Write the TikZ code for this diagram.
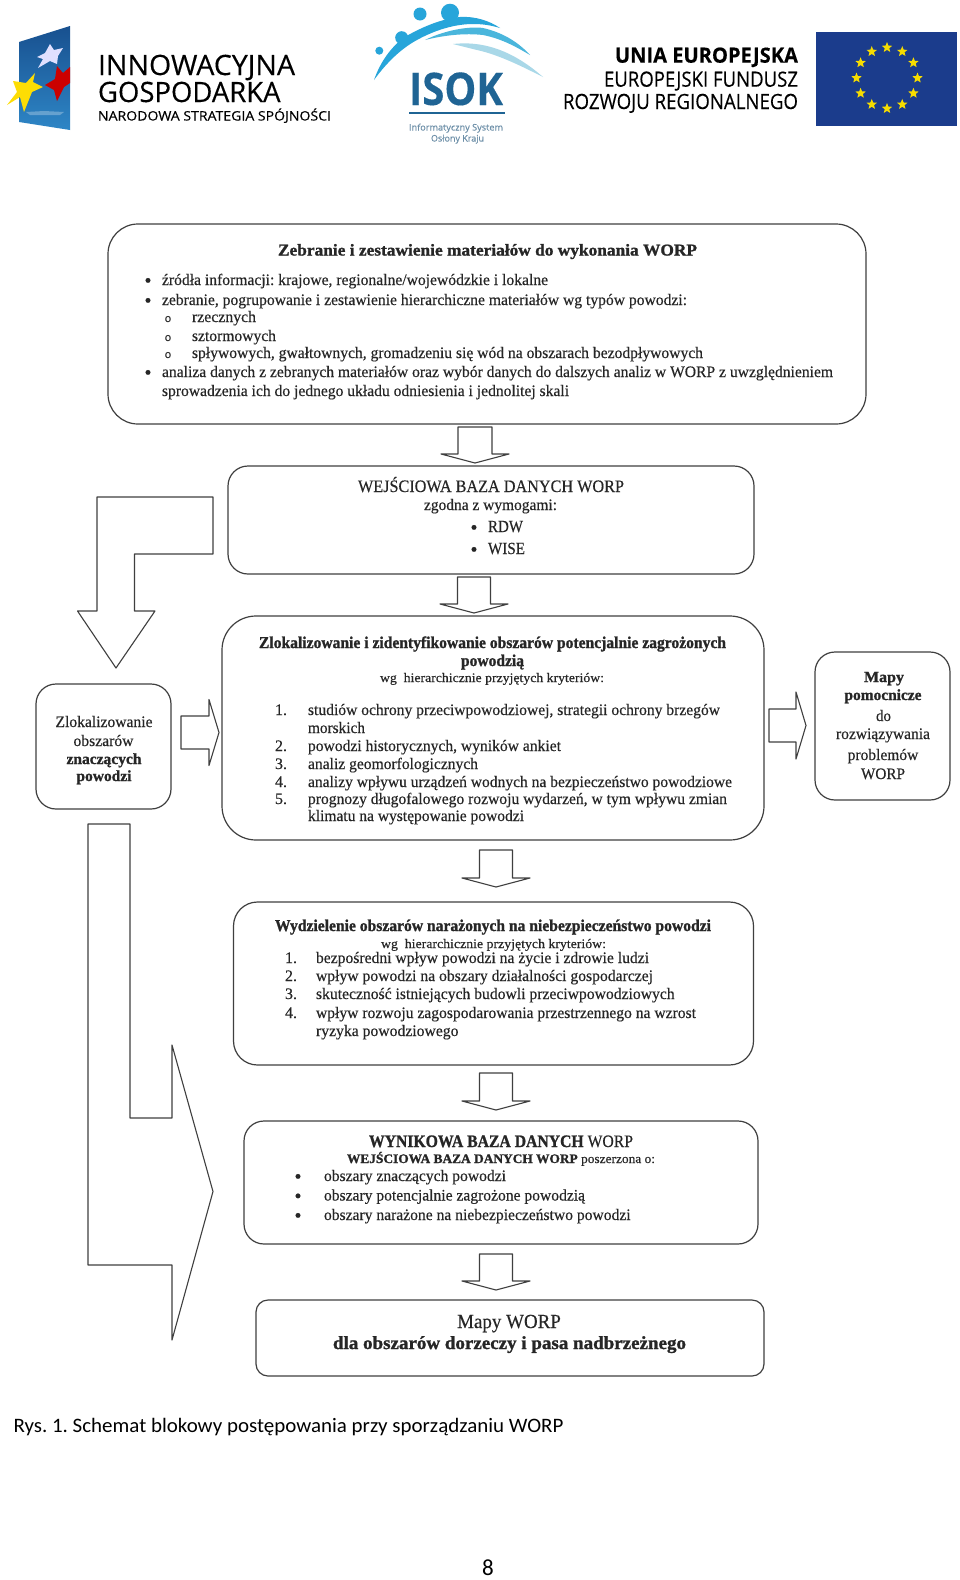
\documentclass[tikz,border=0pt]{standalone}
\usepackage{fontspec}
\usepackage{graphicx}
\setmainfont[FakeBold=0.35,BoldFeatures={FakeBold=1.2}]{Liberation Serif}
\newfontfamily\capfont{Carlito}
\newfontfamily\logofont[FakeBold=0.3]{Open Sans}
\usetikzlibrary{calc,shapes.geometric}
\definecolor{ink}{HTML}{262626}
\definecolor{edge}{HTML}{3F3F3F}
\definecolor{euroblue}{HTML}{1B3C8C}
\definecolor{eurostar}{HTML}{F6DC00}
\definecolor{flagtop}{HTML}{18508F}
\definecolor{flagbot}{HTML}{2E86C6}
\definecolor{isokdark}{HTML}{1F6494}
\definecolor{isokmid}{HTML}{27A5DA}
\definecolor{isoklight}{HTML}{4AB6DC}
\definecolor{isokpale}{HTML}{A9D8E8}
\definecolor{isokgrey}{HTML}{6D8FA8}
\newcommand\fa[1]{\fontsize{#1}{#1}\selectfont}
\newsavebox\fitsave
\newcommand\fitbox[2]{\sbox\fitsave{#2}\pgfmathsetmacro\fitratio{#1/\the\wd\fitsave}\scalebox{\fitratio}[1]{\usebox\fitsave}}
\newcount\tn
\newcommand\LT[5][]{\global\advance\tn by 1\relax\node[txt,anchor=base west,#1] (t\the\tn) at (#2,#3) {\fitbox{#4}{#5}};}
\newcommand\CT[5][]{\global\advance\tn by 1\relax\node[txt,anchor=base,#1] (t\the\tn) at (#2,#3) {\fitbox{#4}{#5}};}
\newcommand\PT[4][]{\global\advance\tn by 1\relax\node[txt,anchor=base,#1] (t\the\tn) at (#2,#3) {#4};}
% from, to, centre x, gap below from, gap above to, half shaft, half head, head length
\newcommand\DArr[8]{\draw[blockarrow] let \p1=(#1.south), \p2=(#2.north) in
  ({(#3-#6)*1pt},{\y1-#4*1pt}) -- ({(#3+#6)*1pt},{\y1-#4*1pt}) -- ({(#3+#6)*1pt},{\y2+#5*1pt+#8*1pt}) -- ({(#3+#7)*1pt},{\y2+#5*1pt+#8*1pt})
  -- ({#3*1pt},{\y2+#5*1pt}) -- ({(#3-#7)*1pt},{\y2+#5*1pt+#8*1pt}) -- ({(#3-#6)*1pt},{\y2+#5*1pt+#8*1pt}) -- cycle;}
% from, to, centre y, gap after from, gap before to, half shaft, half head, head length
\newcommand\RArr[8]{\draw[blockarrow] let \p1=(#1.east), \p2=(#2.west) in
  ({\x1+#4*1pt},{-(#3-#6)*1pt}) -- ({\x2-#5*1pt-#8*1pt},{-(#3-#6)*1pt}) -- ({\x2-#5*1pt-#8*1pt},{-(#3-#7)*1pt})
  -- ({\x2-#5*1pt},{-#3*1pt}) -- ({\x2-#5*1pt-#8*1pt},{-(#3+#7)*1pt}) -- ({\x2-#5*1pt-#8*1pt},{-(#3+#6)*1pt}) -- ({\x1+#4*1pt},{-(#3+#6)*1pt}) -- cycle;}
\tikzset{
  txt/.style={inner sep=0pt,outer sep=0pt,text=ink,font=\fa{16}},
  ttl/.style={font=\bfseries\fa{16.5}},
  wgl/.style={font=\fa{13}},
  logo/.style={font=\logofont\fa{28},text=black},
  boxa/.style={draw=edge,line width=1.2pt,fill=white,inner sep=0pt,outer sep=0pt},
  blockarrow/.style={draw=edge,line width=1.1pt,fill=white,line join=round},
  eustar/.style={star,star points=5,star point ratio=2.3,inner sep=0pt,outer sep=0pt,fill=eurostar,minimum size=11pt},
}
\begin{document}
\frenchspacing
\begin{tikzpicture}[x=1pt,y=-1pt]
\useasboundingbox (0,0) rectangle (960,1580);
\fill[white] (0,0) rectangle (960,1580);

% --- left logo
\shade[top color=flagtop,bottom color=flagbot] (19,42) -- (70,26) -- (70,130) -- (19,122) -- cycle;
\fill[white,opacity=.28] (26,112) -- (44,111) -- (64,112) -- (60,115) -- (30,115) -- cycle;
\fill[white!88!blue] (50,44) -- (54,50) -- (63,48) -- (58,56) -- (57,64) -- (50,61) -- (38,68) -- (43,59) -- (37,57) -- (45,53) -- cycle;
\fill[red!80!black] (45,85) -- (55,79) -- (57,66) -- (63,73) -- (70,67) -- (70,83) -- (64,87) -- (57,101) -- (54,90) -- cycle;
\fill[yellow!80!orange] (35,73) -- (33,82) -- (43,87) -- (32,92) -- (24,112) -- (20,97) -- (7,105) -- (17,92) -- (13,81) -- (26,83) -- cycle;
\LT[logo]{98}{75}{197}{INNOWACYJNA}
\LT[logo]{98}{102}{182.5}{GOSPODARKA}
\LT[logo,font=\logofont\fa{13}]{98}{120.5}{233}{NARODOWA STRATEGIA SPÓJNOŚCI}

% --- ISOK logo
\fill[isokpale] (453,44) .. controls (480,41) and (510,48) .. (543,77) .. controls (525,68) and (500,55) .. (477,50) -- cycle;
\fill[isoklight] (425,40) .. controls (445,30) and (470,26) .. (483,28) .. controls (505,33) and (520,44) .. (530,55) .. controls (518,48) and (503,39) .. (483,35) .. controls (465,33) and (445,35) .. (425,40) -- cycle;
\fill[isokmid] (374,80) .. controls (381,60) and (392,47) .. (403,38) .. controls (420,28) and (440,19) .. (460,17) .. controls (475,16) and (490,21) .. (500,28) .. controls (490,25) and (482,24) .. (473,24) .. controls (455,24) and (435,30) .. (417,40) .. controls (402,48) and (387,62) .. (374,80) -- cycle;
\fill[isokmid] (450,12.7) circle[radius=9];
\fill[isokmid] (420,14) circle[radius=6.5];
\fill[isokmid] (401.7,37.7) circle[radius=6.5];
\fill[isokmid] (379.3,50.7) circle[radius=4];
\CT[logo,font=\bfseries\logofont\fa{45},text=isokdark]{456}{105}{94}{ISOK}
\draw[isokdark,line width=1.8pt] (409,113) -- (505,113);
\CT[logo,font=\logofont\fa{9},text=isokgrey]{456}{130.5}{94}{Informatyczny System}
\CT[logo,font=\logofont\fa{9},text=isokgrey]{457.5}{141.5}{53}{Osłony Kraju}

% --- EU text
\LT[logo,font=\bfseries\logofont\fa{21}]{615}{62.7}{183}{UNIA EUROPEJSKA}
\LT[logo,font=\logofont\fa{21}]{604}{86.7}{194}{EUROPEJSKI FUNDUSZ}
\LT[logo,font=\logofont\fa{21}]{563}{109}{235}{ROZWOJU REGIONALNEGO}

% --- EU flag
\fill[euroblue] (816,32) rectangle (957,126);
\foreach \k in {0,...,11}{
  \node[eustar] (eu\k) at ({887+30.5*cos(30*\k)},{78+30.5*sin(30*\k)}) {};
}

% --- boxes
\node[boxa,rounded corners=30pt,minimum width=758pt,minimum height=200pt] (b1) at (487,324) {};
\node[boxa,rounded corners=20pt,minimum width=526pt,minimum height=108pt] (b2) at (491,520) {};
\node[boxa,rounded corners=34pt,minimum width=542pt,minimum height=224pt] (b3) at (493,728) {};
\node[boxa,rounded corners=20pt,minimum width=135pt,minimum height=125pt] (lb) at (103.5,746.5) {};
\node[boxa,rounded corners=20pt,minimum width=135pt,minimum height=148pt] (rb) at (882.5,726) {};
\node[boxa,rounded corners=24pt,minimum width=520pt,minimum height=163pt] (b4) at (493.5,983.5) {};
\node[boxa,rounded corners=20pt,minimum width=514pt,minimum height=123pt] (b5) at (501,1182.5) {};
\node[boxa,rounded corners=12pt,minimum width=508pt,minimum height=76pt] (b6) at (510,1338) {};

% --- block arrows
\DArr{b1}{b2}{475}{3}{3}{17}{34}{9}
\DArr{b2}{b3}{474}{3}{3}{16.5}{34}{9}
\DArr{b3}{b4}{496}{10}{15}{16.5}{34}{9}
\DArr{b4}{b5}{496}{8}{11}{16.5}{34}{9}
\DArr{b5}{b6}{496}{10}{10}{16.5}{34}{9}
\RArr{lb}{b3}{732.5}{10}{3}{16.5}{33}{10}
\RArr{b3}{rb}{725.5}{5}{9}{16.5}{33.5}{10}
\draw[blockarrow] let \p1=(b2.west), \p2=(lb.north) in
  ({\x1-15pt},-497pt) -- (97pt,-497pt) -- (97pt,-611pt) -- (77.5pt,-611pt) -- (116pt,{\y2+16pt}) -- (155pt,-611pt) -- (134.5pt,-611pt) -- (134.5pt,-554pt) -- ({\x1-15pt},-554pt) -- cycle;
\draw[blockarrow] let \p1=(lb.south), \p2=(b5.west) in
  (88pt,{\y1-15pt}) -- (130pt,{\y1-15pt}) -- (130pt,-1118pt) -- (172pt,-1118pt) -- (172pt,-1045pt) -- ({\x2-31pt},-1191.5pt) -- (172pt,-1340pt) -- (172pt,-1265pt) -- (88pt,-1265pt) -- cycle;

% --- box 1 text
\CT[ttl]{487.5}{255.5}{419}{Zebranie i zestawienie materiałów do wykonania WORP}
\PT[font=\fa{20}]{148}{287}{•}
\LT{162}{285}{386}{źródła informacji: krajowe, regionalne/wojewódzkie i lokalne}
\PT[font=\fa{20}]{148}{307}{•}
\LT{162}{305}{525}{zebranie, pogrupowanie i zestawienie hierarchiczne materiałów wg typów powodzi:}
\PT[font=\logofont\fa{11}]{168}{322}{o}
\LT{192}{322}{64}{rzecznych}
\PT[font=\logofont\fa{11}]{168}{341}{o}
\LT{192}{341}{84}{sztormowych}
\PT[font=\logofont\fa{11}]{168}{358}{o}
\LT{192}{358}{511}{spływowych, gwałtownych, gromadzeniu się wód na obszarach bezodpływowych}
\PT[font=\fa{20}]{148}{379}{•}
\LT{162}{377}{671}{analiza danych z zebranych materiałów oraz wybór danych do dalszych analiz w WORP z uwzględnieniem}
\LT{162}{396}{407}{sprowadzenia ich do jednego układu odniesienia i jednolitej skali}

% --- box 2 text
\CT[font=\fa{17.5}]{491}{492}{266}{WEJŚCIOWA BAZA DANYCH WORP}
\CT{490.5}{510}{133}{zgodna z wymogami:}
\PT[font=\fa{20}]{474}{534}{•}
\LT[font=\fa{17}]{488}{532}{35}{RDW}
\PT[font=\fa{20}]{474}{556}{•}
\LT[font=\fa{17}]{488}{554}{37}{WISE}

% --- box 3 text
\CT[ttl]{492.5}{648}{467}{Zlokalizowanie i zidentyfikowanie obszarów potencjalnie zagrożonych}
\CT[ttl]{492.5}{666}{63}{powodzią}
\CT[wgl]{492}{682}{224}{wg\ \ hierarchicznie przyjętych kryteriów:}
\PT{281}{715}{1.}
\LT{308}{715}{412}{studiów ochrony przeciwpowodziowej, strategii ochrony brzegów}
\LT{308}{733}{57}{morskich}
\PT{281}{751}{2.}
\LT{308}{751}{253}{powodzi historycznych, wyników ankiet}
\PT{281}{769}{3.}
\LT{308}{769}{170}{analiz geomorfologicznych}
\PT{281}{787}{4.}
\LT{308}{787}{424}{analizy wpływu urządzeń wodnych na bezpieczeństwo powodziowe}
\PT{281}{804}{5.}
\LT{308}{804}{419}{prognozy długofalowego rozwoju wydarzeń, w tym wpływu zmian}
\LT{308}{821}{216}{klimatu na występowanie powodzi}

% --- left box text
\CT{104}{727}{97}{Zlokalizowanie}
\CT{103.5}{746}{60}{obszarów}
\CT[ttl,font=\bfseries\fa{15.5}]{104}{764}{75}{znaczących}
\CT[ttl,font=\bfseries\fa{15.5}]{104}{781}{55}{powodzi}

% --- right box text
\CT[ttl,font=\bfseries\fa{15.5}]{884}{682}{40}{Mapy}
\CT[ttl,font=\bfseries\fa{15.5}]{883}{700}{77}{pomocnicze}
\CT{883.5}{721}{15}{do}
\CT{883}{739}{94}{rozwiązywania}
\CT{883}{760}{70.6}{problemów}
\CT{883}{779}{44}{WORP}

% --- box 4 text
\CT[ttl]{493}{931}{436}{Wydzielenie obszarów narażonych na niebezpieczeństwo powodzi}
\CT[wgl]{493.5}{948}{225}{wg\ \ hierarchicznie przyjętych kryteriów:}
\PT{291}{963}{1.}
\LT{316}{963}{333}{bezpośredni wpływ powodzi na życie i zdrowie ludzi}
\PT{291}{981}{2.}
\LT{316}{981}{337}{wpływ powodzi na obszary działalności gospodarczej}
\PT{291}{999}{3.}
\LT{316}{999}{358.6}{skuteczność istniejących budowli przeciwpowodziowych}
\PT{291}{1018}{4.}
\LT{316}{1018}{380}{wpływ rozwoju zagospodarowania przestrzennego na wzrost}
\LT{316}{1036}{142.5}{ryzyka powodziowego}

% --- box 5 text
\CT[font=\fa{17.5}]{501}{1147}{264}{\textbf{WYNIKOWA BAZA DANYCH} WORP}
\CT[font=\fa{13}]{501}{1163}{308}{\textbf{WEJŚCIOWA BAZA DANYCH WORP} poszerzona o:}
\PT[font=\fa{20}]{298}{1183}{•}
\LT{324}{1181}{182}{obszary znaczących powodzi}
\PT[font=\fa{20}]{298}{1202.5}{•}
\LT{324}{1200.5}{261}{obszary potencjalnie zagrożone powodzią}
\PT[font=\fa{20}]{298}{1222}{•}
\LT{324}{1220}{306.6}{obszary narażone na niebezpieczeństwo powodzi}

% --- box 6 text
\CT[font=\fa{20}]{509}{1328}{103.7}{Mapy WORP}
\CT[font=\bfseries\fa{18.5}]{509.5}{1349}{353}{dla obszarów dorzeczy i pasa nadbrzeżnego}

% --- caption and page number
\LT[font=\capfont\fa{20.5},text=black]{13.5}{1432}{550}{Rys. 1. Schemat blokowy postępowania przy sporządzaniu WORP}
\PT[font=\capfont\fa{23},text=black]{488}{1575}{8}
\end{tikzpicture}
\end{document}
